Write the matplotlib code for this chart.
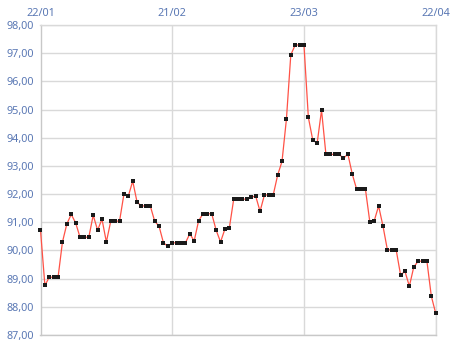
import matplotlib
matplotlib.use("Agg")
import matplotlib.pyplot as plt
import pandas as pd
from matplotlib.ticker import FuncFormatter

start_date = "2019-01-22"
end_date = "2019-04-22"
values = [
    90.72, 88.76, 89.05, 89.05, 89.05, 90.30, 90.94, 91.28, 90.98, 90.47,
    90.47, 90.47, 91.25, 90.72, 91.11, 90.30, 91.04, 91.04, 91.04, 92.00,
    91.93, 92.46, 91.71, 91.58, 91.58, 91.58, 91.04, 90.86, 90.27, 90.15,
    90.27, 90.27, 90.27, 90.27, 90.59, 90.34, 91.05, 91.30, 91.30, 91.30,
    90.72, 90.30, 90.76, 90.79, 91.82, 91.82, 91.82, 91.82, 91.89, 91.93,
    91.39, 91.97, 91.97, 91.97, 92.67, 93.16, 94.65, 96.94, 97.29, 97.29,
    97.29, 94.72, 93.92, 93.80, 94.98, 93.41, 93.41, 93.41, 93.41, 93.27,
    93.42, 92.71, 92.17, 92.17, 92.17, 91.01, 91.05, 91.58, 90.86, 90.02,
    90.02, 90.02, 89.13, 89.26, 88.73, 89.41, 89.62, 89.62, 89.62, 88.38,
    87.77,
]
x_tick_dates = ["2019-01-22", "2019-02-21", "2019-03-23", "2019-04-22"]
x_tick_labels = ["22/01", "21/02", "23/03", "22/04"]
y_ticks = [87, 88, 89, 90, 91, 92, 93, 94, 95, 96, 97, 98]

dates = pd.date_range(start_date, end_date, freq="D")

text_color = "#5a78b4"
grid_color = "#d9d9d9"

fig = plt.figure(figsize=(4.6, 3.6), dpi=100)
ax = fig.add_axes([40.5 / 460, 1 - 335 / 360, (435.7 - 40.5) / 460, (335 - 25) / 360])

ax.plot(dates, values, color="#ff5246", lw=0.9, marker="s", markersize=2.4,
        markerfacecolor="#1a1a1a", markeredgewidth=0,
        zorder=3, clip_on=False)

ax.set_xlim(pd.Timestamp(start_date), pd.Timestamp(end_date))
ax.set_ylim(87, 98)
ax.set_xticks([pd.Timestamp(d) for d in x_tick_dates])
ax.set_xticklabels(x_tick_labels)
ax.set_yticks(y_ticks)
ax.yaxis.set_major_formatter(FuncFormatter(lambda v, p: f"{v:.2f}".replace(".", ",")))
ax.xaxis.tick_top()

ax.tick_params(axis="both", length=0, labelcolor=text_color, labelsize=7.8)
ax.tick_params(axis="y", pad=5)
ax.tick_params(axis="x", pad=4)
for lab in ax.get_xticklabels() + ax.get_yticklabels():
    lab.set_fontfamily("Noto Sans")

ax.grid(True, color=grid_color, lw=1.0)
ax.set_axisbelow(True)
for s in ax.spines.values():
    s.set_color(grid_color)
    s.set_linewidth(1.0)
ax.spines["left"].set_color("#c8c8c8")
ax.spines["bottom"].set_color("#c8c8c8")

fig.savefig("out.png", dpi=100)
